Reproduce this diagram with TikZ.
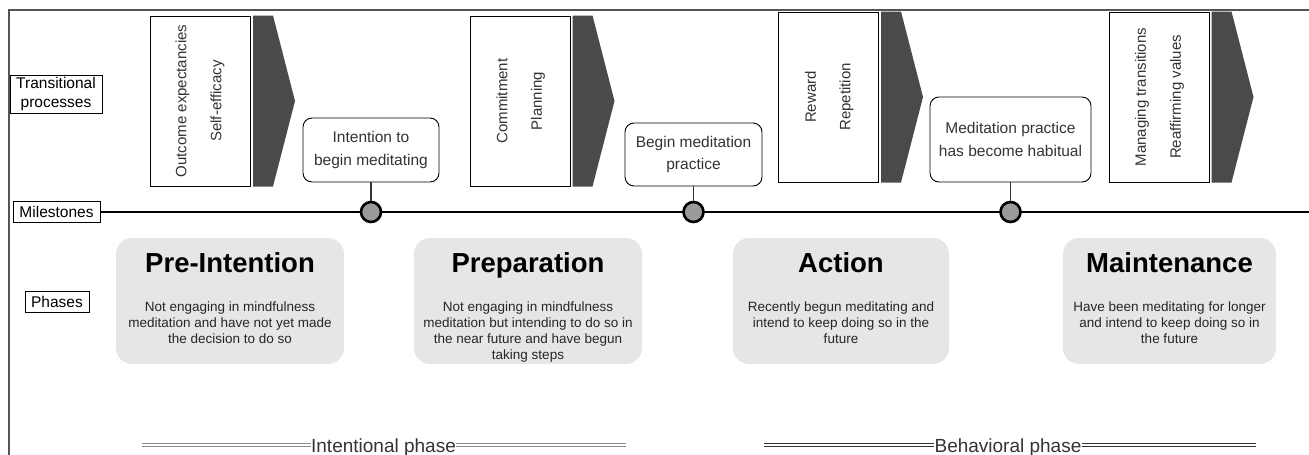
\documentclass[tikz,border=0pt]{standalone}
\usepackage{fontspec}
\setmainfont{Liberation Sans}
\newcommand\myfs[2]{\fontsize{#1}{#2}\selectfont}
\definecolor{chevgray}{HTML}{4A4A4A}
\definecolor{dotgray}{HTML}{9A9A9A}
\definecolor{phasegray}{HTML}{E6E6E6}
\definecolor{txtgray}{HTML}{333333}
\definecolor{framegray}{HTML}{555555}
\begin{document}
\begin{tikzpicture}[x=1pt,y=-1pt,
  lab/.style={draw=black, line width=0.9pt, fill=white, inner sep=0pt, align=center, font=\myfs{15.5}{19}},
  tbox/.style={draw=black, line width=1pt, fill=white, minimum width=100, minimum height=170, inner sep=0pt},
  rot/.style={rotate=90, font=\myfs{15}{18}, text=txtgray, inner sep=0pt},
  chev/.style={fill=chevgray, draw=none},
  mile/.style={draw=black, rounded corners=9pt, line width=0.9pt, fill=white, align=center, inner sep=0pt, font=\myfs{15.5}{22.5}, text=txtgray},
  conn/.style={draw=txtgray, line width=1.4pt},
  dot/.style={circle, draw=black, line width=2.6pt, fill=dotgray, minimum size=20, inner sep=0pt},
  phasebox/.style={fill=phasegray, rounded corners=16pt, minimum height=126, inner sep=0pt},
  ptitle/.style={font=\bfseries\myfs{27.5}{30}, anchor=base, inner sep=0pt},
  pdesc/.style={font=\myfs{13.5}{16}, align=center, text=black!85, anchor=north, inner sep=0pt},
  btext/.style={font=\myfs{19}{22}, anchor=base, inner sep=0pt, text=txtgray},
  dblgray/.style={draw=black!45, double=white, double distance=2.2pt, line width=0.9pt},
  dbldark/.style={draw=black!80, double=white, double distance=2.2pt, line width=0.9pt}
]
\useasboundingbox (0,0) rectangle (1309,455);
% frame
\draw[framegray, line width=1.1pt] (9,455) -- (9,10) -- (1309,10);

% row labels
\node[lab, minimum width=92, minimum height=38] (tp) at (56,94) {Transitional\\processes};
\node[lab, minimum width=87, minimum height=21] (ms) at (56.5,212) {Milestones};
\node[lab, minimum width=64, minimum height=21] (ph) at (57,302) {Phases};

% milestone line
\coordinate (lineend) at (1309,212);
\draw[black, line width=2pt] (ms.east) -- (lineend);

% transitional process boxes
\node[tbox] (t1) at (200.5,101) {};
\node[tbox] (t2) at (520,101) {};
\node[tbox] (t3) at (828.5,97) {};
\node[tbox] (t4) at (1159,97) {};
\foreach \t in {t1,t2,t3,t4}{
  \fill[chev] ([xshift=2pt]\t.north east) -- ([xshift=22pt]\t.north east) -- ([xshift=44pt]\t.east) -- ([xshift=22pt]\t.south east) -- ([xshift=2pt]\t.south east) -- cycle;
}
\node[rot] (t1a) at ([xshift=-18pt]t1.center) {Outcome expectancies};
\node[rot] (t1b) at ([xshift=17pt]t1.center) {Self-efficacy};
\node[rot] (t2a) at ([xshift=-18pt]t2.center) {Commitment};
\node[rot] (t2b) at ([xshift=18pt]t2.center) {Planning};
\node[rot] (t3a) at ([xshift=-18pt]t3.center) {Reward};
\node[rot] (t3b) at ([xshift=18pt]t3.center) {Repetition};
\node[rot] (t4a) at ([xshift=-17pt]t4.center) {Managing transitions};
\node[rot] (t4b) at ([xshift=18pt]t4.center) {Reaffirming values};

% milestones
\node[mile, minimum width=136, minimum height=64] (m1) at (371,150) {Intention to\\begin meditating};
\node[mile, minimum width=137, minimum height=63] (m2) at (693.5,154.5) {Begin meditation\\practice};
\node[mile, minimum width=161, minimum height=85] (m3) at (1010.5,139.5) {Meditation practice\\has become habitual};
\node[dot] (d1) at (371,212) {};
\node[dot] (d2) at (693.5,212) {};
\node[dot] (d3) at (1010.5,212) {};
\draw[conn] (m1.south) -- (d1.north);
\draw[conn] (m2.south) -- (d2.north);
\draw[conn] (m3.south) -- (d3.north);

% phases
\node[phasebox, minimum width=228] (p1) at (230,301) {};
\node[phasebox, minimum width=228] (p2) at (528,301) {};
\node[phasebox, minimum width=216] (p3) at (841,301) {};
\node[phasebox, minimum width=213] (p4) at (1169.5,301) {};
\node[ptitle] (p1t) at (230,272) {Pre-Intention};
\node[ptitle] (p2t) at (528,272) {Preparation};
\node[ptitle] (p3t) at (841,272) {Action};
\node[ptitle] (p4t) at (1169.5,272) {Maintenance};
\node[pdesc] (p1d) at (230,302) {Not engaging in mindfulness\\meditation and have not yet made\\the decision to do so};
\node[pdesc] (p2d) at (528,302) {Not engaging in mindfulness\\meditation but intending to do so in\\the near future and have begun\\taking steps};
\node[pdesc] (p3d) at (841,302) {Recently begun meditating and\\intend to keep doing so in the\\future};
\node[pdesc] (p4d) at (1169.5,302) {Have been meditating for longer\\and intend to keep doing so in\\the future};

% bottom phase labels
\node[btext] (ip) at (383.5,452) {Intentional phase};
\node[btext] (bp) at (1008,452) {Behavioral phase};
\coordinate (il) at (142,445);
\coordinate (ir) at (626,445);
\coordinate (bl) at (764,445);
\coordinate (br) at (1256,445);
\draw[dblgray] (il) -- (ip.west |- il);
\draw[dblgray] (ip.east |- ir) -- (ir);
\draw[dbldark] (bl) -- (bp.west |- bl);
\draw[dbldark] (bp.east |- br) -- (br);
\end{tikzpicture}
\end{document}
